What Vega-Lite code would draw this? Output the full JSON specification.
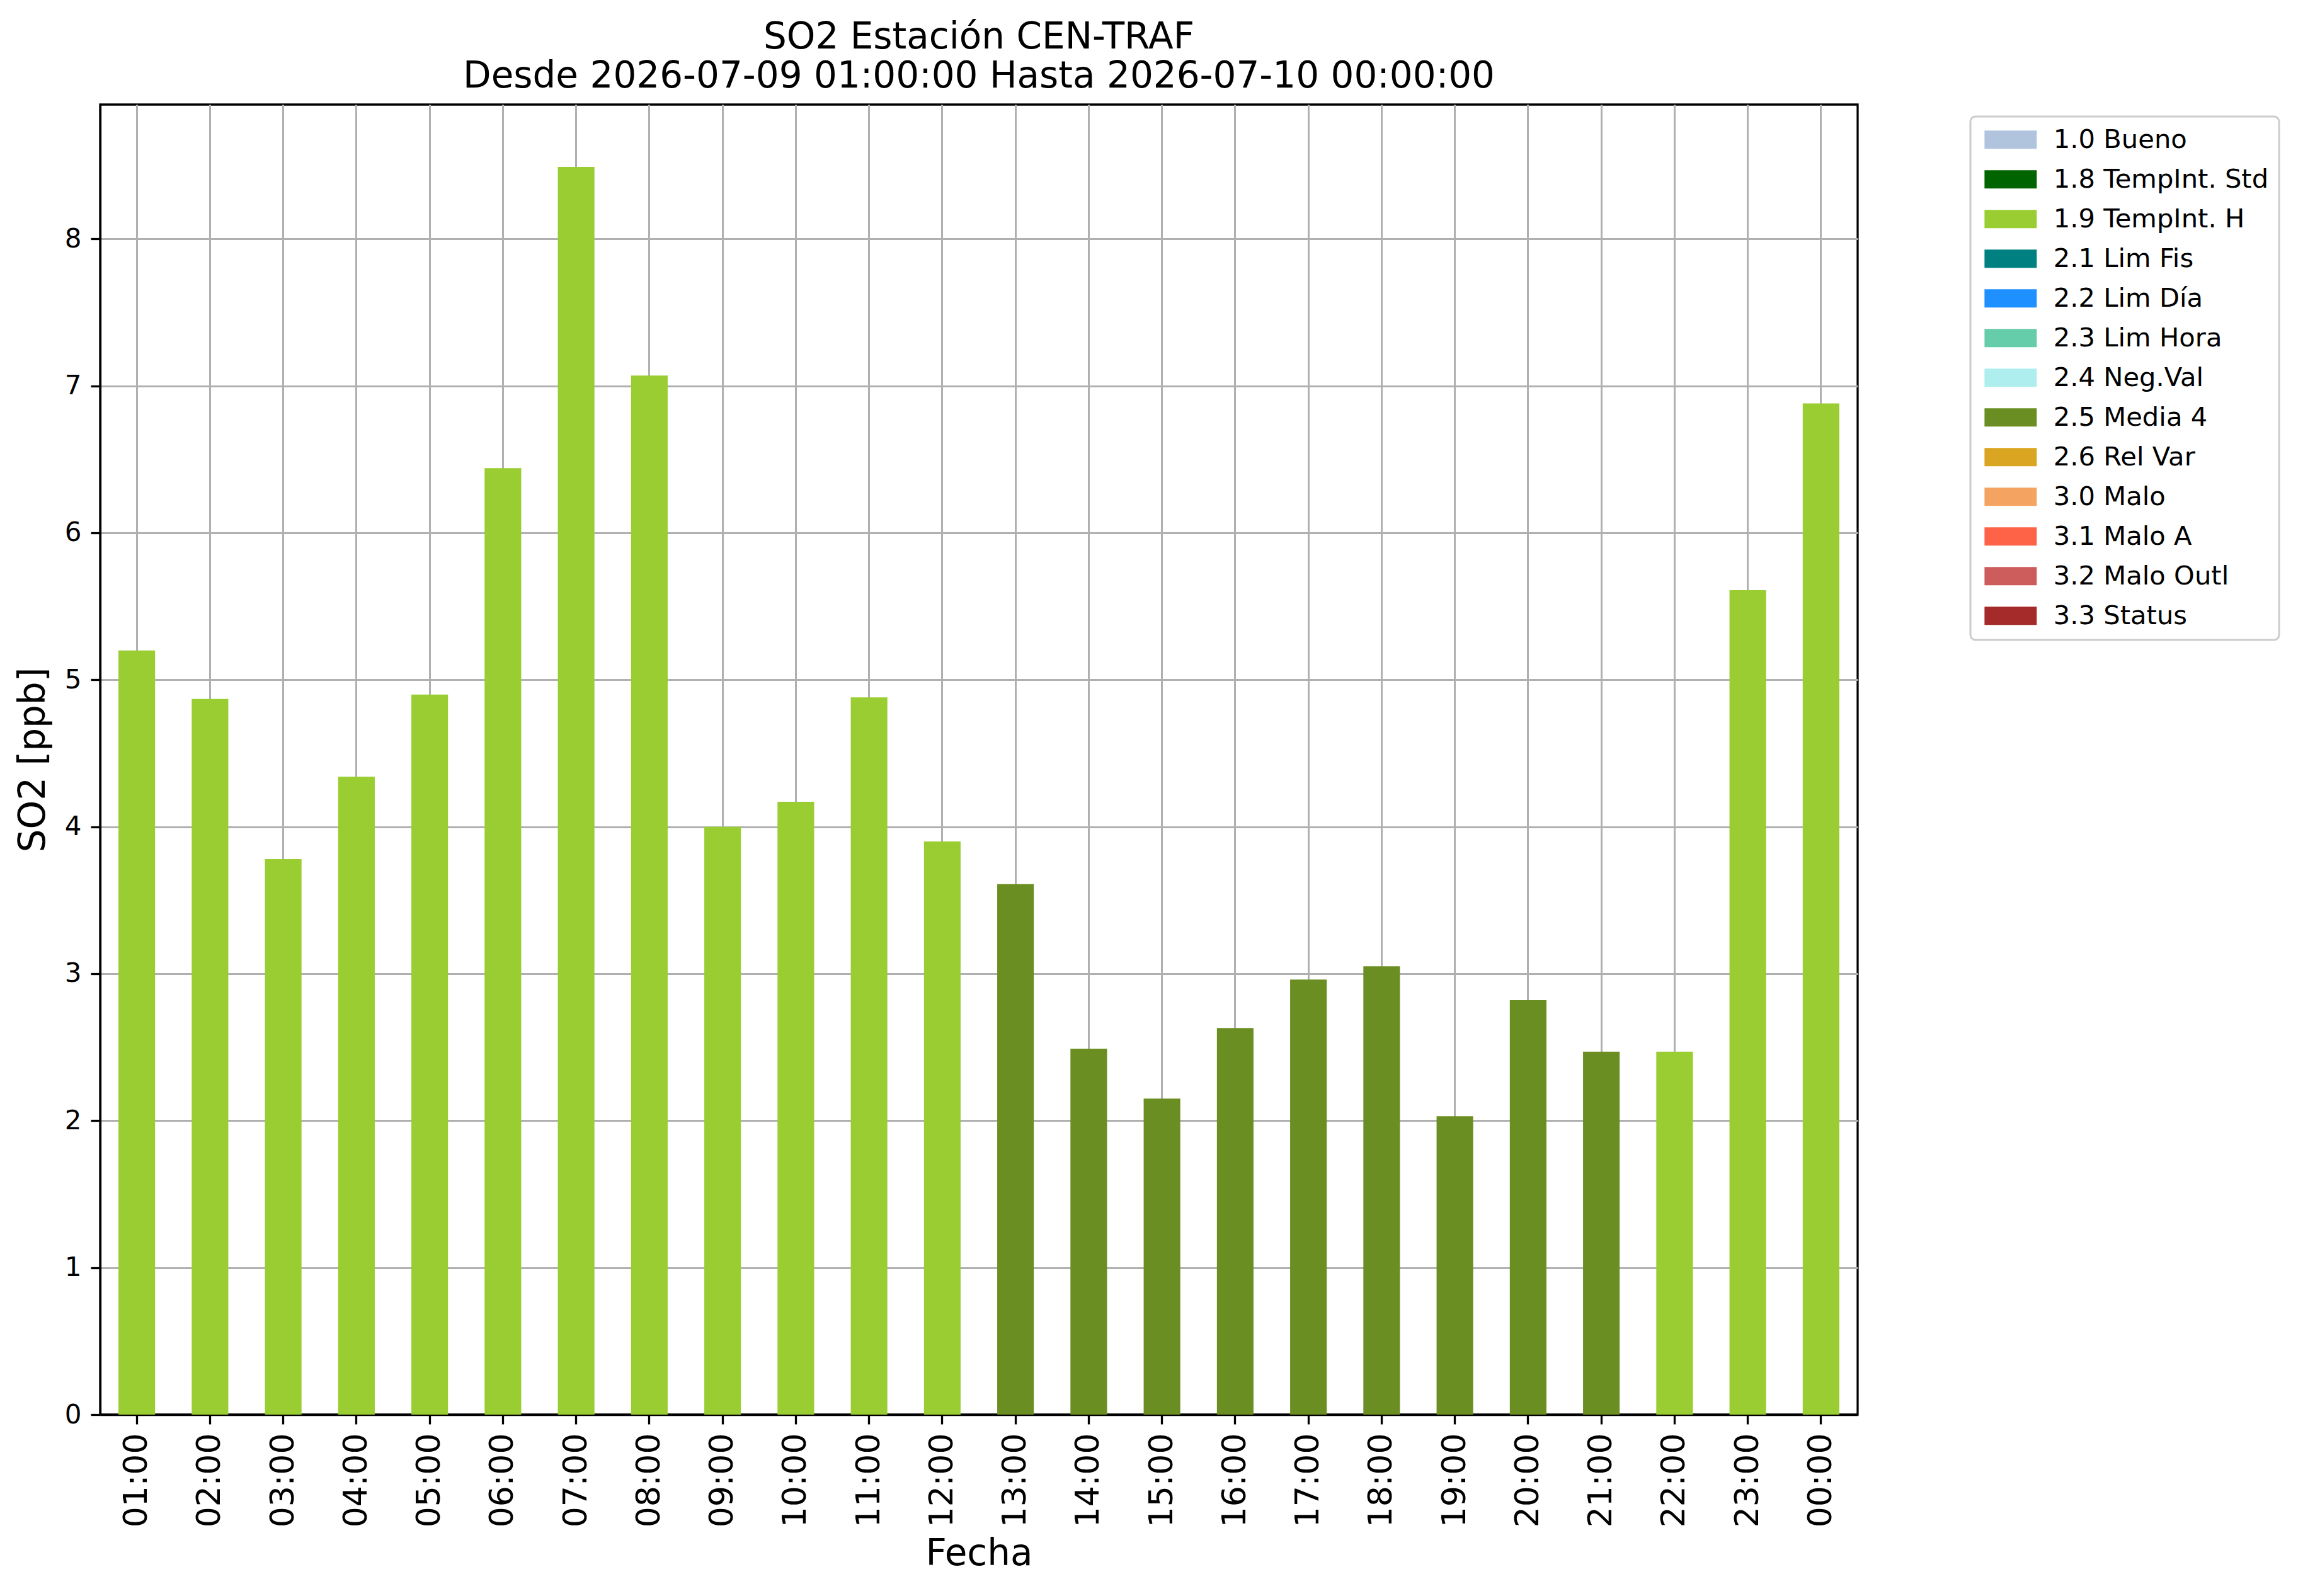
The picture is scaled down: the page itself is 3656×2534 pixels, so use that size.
{
  "$schema": "https://vega.github.io/schema/vega-lite/v6.json",
  "width": 2790,
  "height": 2080,
  "autosize": {"type": "none"},
  "padding": {"left": 159, "top": 166, "right": 707, "bottom": 288},
  "background": "white",
  "title": {
    "text": ["SO2 Estación CEN-TRAF", "Desde 2026-07-09 01:00:00 Hasta 2026-07-10 00:00:00"],
    "fontSize": 58,
    "fontWeight": "normal",
    "anchor": "middle",
    "frame": "group",
    "offset": 15,
    "lineHeight": 62,
    "color": "black"
  },
  "data": {
    "values": [
      {"hora": "01:00", "so2": 5.20, "flag": "1.9 TempInt. H"},
      {"hora": "02:00", "so2": 4.87, "flag": "1.9 TempInt. H"},
      {"hora": "03:00", "so2": 3.78, "flag": "1.9 TempInt. H"},
      {"hora": "04:00", "so2": 4.34, "flag": "1.9 TempInt. H"},
      {"hora": "05:00", "so2": 4.90, "flag": "1.9 TempInt. H"},
      {"hora": "06:00", "so2": 6.44, "flag": "1.9 TempInt. H"},
      {"hora": "07:00", "so2": 8.49, "flag": "1.9 TempInt. H"},
      {"hora": "08:00", "so2": 7.07, "flag": "1.9 TempInt. H"},
      {"hora": "09:00", "so2": 4.00, "flag": "1.9 TempInt. H"},
      {"hora": "10:00", "so2": 4.17, "flag": "1.9 TempInt. H"},
      {"hora": "11:00", "so2": 4.88, "flag": "1.9 TempInt. H"},
      {"hora": "12:00", "so2": 3.90, "flag": "1.9 TempInt. H"},
      {"hora": "13:00", "so2": 3.61, "flag": "2.5 Media 4"},
      {"hora": "14:00", "so2": 2.49, "flag": "2.5 Media 4"},
      {"hora": "15:00", "so2": 2.15, "flag": "2.5 Media 4"},
      {"hora": "16:00", "so2": 2.63, "flag": "2.5 Media 4"},
      {"hora": "17:00", "so2": 2.96, "flag": "2.5 Media 4"},
      {"hora": "18:00", "so2": 3.05, "flag": "2.5 Media 4"},
      {"hora": "19:00", "so2": 2.03, "flag": "2.5 Media 4"},
      {"hora": "20:00", "so2": 2.82, "flag": "2.5 Media 4"},
      {"hora": "21:00", "so2": 2.47, "flag": "2.5 Media 4"},
      {"hora": "22:00", "so2": 2.47, "flag": "1.9 TempInt. H"},
      {"hora": "23:00", "so2": 5.61, "flag": "1.9 TempInt. H"},
      {"hora": "00:00", "so2": 6.88, "flag": "1.9 TempInt. H"}
    ]
  },
  "mark": {"type": "bar"},
  "encoding": {
    "x": {
      "field": "hora",
      "type": "nominal",
      "sort": null,
      "title": "Fecha",
      "scale": {"paddingInner": 0.5, "paddingOuter": 0.25},
      "axis": {
        "labelAngle": 270,
        "labelFontSize": 52,
        "labelPadding": 14,
        "titlePadding": 14,
        "bandPosition": 0.5,
        "grid": true
      }
    },
    "y": {
      "field": "so2",
      "type": "quantitative",
      "title": "SO2 [ppb]",
      "scale": {"domain": [0, 8.914], "nice": false, "zero": true},
      "axis": {
        "values": [0, 1, 2, 3, 4, 5, 6, 7, 8],
        "labelFontSize": 42,
        "labelPadding": 15,
        "titlePadding": 20,
        "grid": true
      }
    },
    "color": {
      "field": "flag",
      "type": "nominal",
      "scale": {
        "domain": ["1.0 Bueno", "1.8 TempInt. Std", "1.9 TempInt. H", "2.1 Lim Fis", "2.2 Lim Día", "2.3 Lim Hora", "2.4 Neg.Val", "2.5 Media 4", "2.6 Rel Var", "3.0 Malo", "3.1 Malo A", "3.2 Malo Outl", "3.3 Status"],
        "range": ["#b0c4de", "#006400", "#9acd32", "#008080", "#1e90ff", "#66cdaa", "#afeeee", "#6b8e23", "#daa520", "#f4a460", "#ff6347", "#cd5c5c", "#a52a2a"]
      },
      "legend": {
        "title": null,
        "orient": "none",
        "legendX": 2969,
        "legendY": 19,
        "padding": 16,
        "strokeColor": "#cccccc",
        "cornerRadius": 8,
        "fillColor": "white",
        "labelFontSize": 41.7,
        "labelColor": "black",
        "labelLimit": 800,
        "symbolType": "M-2.86,-1H2.86V1H-2.86Z",
        "symbolSize": 841,
        "symbolStrokeWidth": 0,
        "symbolOpacity": 1,
        "symbolOffset": 27,
        "labelOffset": 47,
        "rowPadding": 20,
        "encode": {"legend": {"update": {"strokeWidth": {"value": 3}}}}
      }
    }
  },
  "config": {
    "font": "DejaVu Sans",
    "view": {"stroke": "black", "strokeWidth": 3.3},
    "axis": {
      "zindex": 1,
      "domainColor": "black",
      "domainWidth": 3.3,
      "tickColor": "black",
      "tickWidth": 3.3,
      "tickSize": 15,
      "labelColor": "black",
      "labelFont": "DejaVu Sans",
      "titleFont": "DejaVu Sans",
      "titleFontSize": 58,
      "titleFontWeight": "normal",
      "titleColor": "black",
      "gridColor": "#b0b0b0",
      "gridWidth": 3,
      "gridOpacity": 1
    }
  }
}
